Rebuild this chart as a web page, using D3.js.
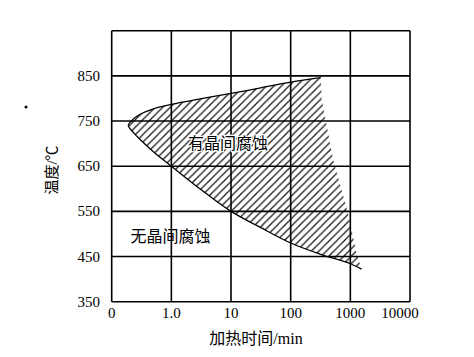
<!DOCTYPE html>
<html>
<head>
<meta charset="utf-8">
<script src="https://cdn.jsdelivr.net/npm/d3@7"></script>
<style>
  html, body { margin: 0; padding: 0; background: #fff; }
</style>
</head>
<body>
<div id="chart"></div>
<script>
// ---- data ----
const xTicks = [0.1, 1, 10, 100, 1000, 10000];
const xTickLabels = ["0", "1.0", "10", "100", "1000", "10000"];
const yTicks = [350, 450, 550, 650, 750, 850];
const yTickLabels = ["350", "450", "550", "650", "750", "850"];

// upper boundary (nose -> right end)
const upperTime = [0.19, 0.22, 0.3, 0.5, 1, 3, 10, 30, 100, 320];
const upperTemp = [740, 752, 765, 777, 787, 799, 811, 823, 836, 846];
// lower boundary (nose -> right end)
const lowerTime = [0.19, 0.23, 0.3, 0.5, 1, 3.16, 10, 31.6, 100, 316, 1000, 1540];
const lowerTemp = [740, 725, 709, 682, 650, 598, 550, 514, 480, 455, 434, 422];
// right edge of hatching (top -> bottom), not stroked
const rightTime = [320, 331, 515, 910, 1270, 1540];
const rightTemp = [846, 798, 665, 547, 458, 422];

const W = 474, H = 357;
const L = 111.7, R = 410, T = 30.7, B = 301.7;

const svg = d3.select("#chart").append("svg")
  .attr("width", W).attr("height", H)
  .style("display", "block");

svg.append("rect").attr("width", W).attr("height", H).attr("fill", "#fff");

const x = d3.scaleLog().domain([0.1, 10000]).range([L, R]);
const y = d3.scaleLinear().domain([350, 950]).range([B, T]);

const SERIF = "'Liberation Serif', 'Noto Sans CJK SC', serif";

// hatch pattern (45 deg, ~7.5px apart)
const S = 7.5;
const defs = svg.append("defs");
const pat = defs.append("pattern")
  .attr("id", "hatch")
  .attr("patternUnits", "userSpaceOnUse")
  .attr("width", S).attr("height", S);
pat.append("path")
  .attr("d", `M-1,${S + 1} L${S + 1},-1 M-2,2 L2,-2 M${S - 2},${S + 2} L${S + 2},${S - 2}`)
  .attr("stroke", "#111").attr("stroke-width", 1.2);

// boundary: upper reversed, then lower
const curvePts = upperTime.map((t, i) => [t, upperTemp[i]]).reverse()
  .concat(lowerTime.slice(1).map((t, i) => [t, lowerTemp[i + 1]]));

const line = d3.line()
  .x(d => x(d[0])).y(d => y(d[1]))
  .curve(d3.curveCatmullRom.alpha(0.5));

const curveD = line(curvePts);
const rightPts = rightTime.map((t, i) => [t, rightTemp[i]]).reverse();
const closeD = curveD + rightPts.slice(1).map(d => `L${x(d[0])},${y(d[1])}`).join("") + "Z";

svg.append("path")
  .attr("d", closeD)
  .attr("fill", "url(#hatch)")
  .attr("stroke", "none");

// grid
const g = svg.append("g").attr("stroke", "#000").attr("stroke-width", 1.6);
g.selectAll("line.v").data(xTicks).enter().append("line")
  .attr("x1", d => x(d)).attr("x2", d => x(d))
  .attr("y1", T).attr("y2", B);
g.selectAll("line.h").data(yTicks.concat([950])).enter().append("line")
  .attr("x1", L).attr("x2", R)
  .attr("y1", d => y(d)).attr("y2", d => y(d));

// boundary curve
svg.append("path")
  .attr("d", curveD)
  .attr("fill", "none")
  .attr("stroke", "#000")
  .attr("stroke-width", 1.3);

// tick labels
svg.selectAll("text.yt").data(yTicks).enter().append("text")
  .attr("x", 100).attr("y", d => y(d) + 5)
  .attr("text-anchor", "end")
  .attr("font-family", SERIF).attr("font-size", 15)
  .text((d, i) => yTickLabels[i]);

svg.selectAll("text.xt").data(xTicks).enter().append("text")
  .attr("x", (d, i) => x(d) + (i === xTicks.length - 1 ? -10 : 0))
  .attr("y", 318)
  .attr("text-anchor", "middle")
  .attr("font-family", SERIF).attr("font-size", 15)
  .text((d, i) => xTickLabels[i]);

// axis titles
svg.append("text")
  .attr("x", 256).attr("y", 344)
  .attr("text-anchor", "middle")
  .attr("font-family", SERIF).attr("font-size", 16)
  .text("加热时间/min");

svg.append("text")
  .attr("transform", "translate(57,170) rotate(-90)")
  .attr("text-anchor", "middle")
  .attr("font-family", SERIF).attr("font-size", 15)
  .text("温度/℃");

// region labels
svg.append("text")
  .attr("x", x(8.9)).attr("y", y(702) + 6)
  .attr("text-anchor", "middle")
  .attr("font-family", SERIF).attr("font-size", 16)
  .attr("stroke", "#fff").attr("stroke-width", 2.5)
  .attr("paint-order", "stroke")
  .text("有晶间腐蚀");

svg.append("text")
  .attr("x", x(0.97)).attr("y", y(496) + 6)
  .attr("text-anchor", "middle")
  .attr("font-family", SERIF).attr("font-size", 16)
  .text("无晶间腐蚀");

// stray dot in the scan
svg.append("circle").attr("cx", 26).attr("cy", 107).attr("r", 1.5).attr("fill", "#000");
</script>
</body>
</html>
